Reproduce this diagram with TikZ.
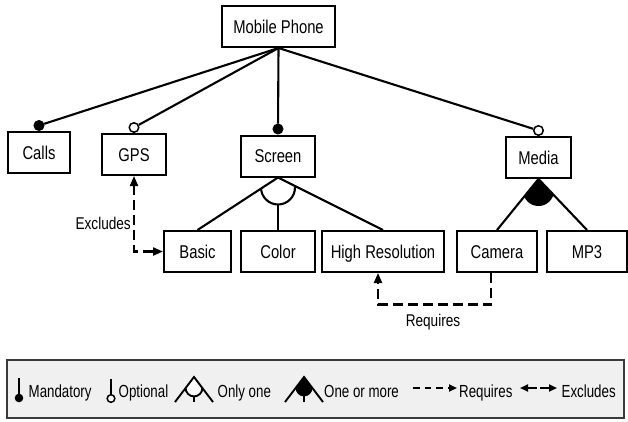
\documentclass[tikz,border=0pt]{standalone}
\usepackage{fontspec}
\setmainfont{Liberation Sans}[FakeStretch=0.8]
\newfontfamily\legfont{Liberation Sans}[FakeStretch=0.76]
\usetikzlibrary{arrows.meta,calc}
\definecolor{legendfill}{HTML}{F0F0F0}
\definecolor{legendedge}{HTML}{3A3A3A}

\begin{document}
\begin{tikzpicture}[x=1pt,y=-1pt,
  feat/.style={draw, line width=2pt, fill=white, inner sep=0pt, minimum height=41pt,
    font=\fontsize{18.5}{20}\selectfont, text height=13pt, text depth=0pt},
  edge/.style={line width=2.1pt},
  mand/.style={circle, fill=black, draw=black, line width=1pt, minimum size=10pt, inner sep=0pt, anchor=south},
  opt/.style={circle, fill=white, draw=black, line width=1.5pt, minimum size=9.5pt, inner sep=0pt, anchor=south},
  tip/.style={-{Triangle[length=10pt,width=8pt]}},
  bitip/.style={{Triangle[length=10pt,width=8pt]}-{Triangle[length=10pt,width=8pt]}},
  crosslink/.style={line width=2.1pt, dash pattern=on 10pt off 5pt},
  lbl/.style={font=\fontsize{17}{19}\selectfont, inner sep=0pt, text height=12pt, text depth=0pt},
  legtext/.style={font=\legfont\fontsize{17.5}{19}\selectfont, inner sep=0pt, anchor=base west},
  legline/.style={line width=1.9pt},
  legtip/.style={-{Triangle[length=8pt,width=7pt]}},
]
\useasboundingbox (0,0) rectangle (628,421);
\fill[white] (0,0) rectangle (628,421);

% feature boxes
\node[feat, minimum width=113pt] (mp)     at (278.5,26.5) {Mobile Phone};
\node[feat, minimum width=62pt]  (calls)  at (39,152.5)   {Calls};
\node[feat, minimum width=64pt]  (gps)    at (134,154.5)  {GPS};
\node[feat, minimum width=74pt]  (screen) at (278,156)    {Screen};
\node[feat, minimum width=65pt]  (media)  at (538.5,157.5){Media};
\node[feat, minimum width=67pt]  (basic)  at (197.5,251.5){Basic};
\node[feat, minimum width=74pt]  (color)  at (278,251.5)  {Color};
\node[feat, minimum width=122pt] (hires)  at (383,251.5)  {High Resolution};
\node[feat, minimum width=80pt]  (camera) at (497,251.5)  {Camera};
\node[feat, minimum width=80pt]  (mp3)    at (587,251.5)  {MP3};

% mandatory / optional markers
\node[mand] (callsdot)  at (calls.north)  {};
\node[opt]  (gpsdot)    at (gps.north)    {};
\node[mand] (screendot) at (screen.north) {};
\node[opt]  (mediadot)  at (media.north)  {};

\draw[edge] (mp.south) -- (callsdot);
\draw[edge] (mp.south) -- (gpsdot);
\draw[edge] (mp.south) -- (screendot);
\draw[edge] (mp.south) -- (mediadot);

% alternative group under Screen
\draw[edge] (screen.south) -- (basic.north);
\draw[edge] (screen.south) -- (hires.north);
\coordinate (xorbot) at (278,204.5);
\draw[edge] (xorbot) -- (color.north);
\begin{scope}
  \clip (screen.south) -- (basic.north) -- (hires.north) -- cycle;
  \clip (240,185) rectangle (320,215);
  \draw[edge] (278,187.5) circle (17);
\end{scope}

% or group under Media
\draw[edge] (media.south) -- (camera.north);
\draw[edge] (media.south) -- (mp3.north);
\begin{scope}
  \clip (media.south) -- (camera.north) -- (mp3.north) -- cycle;
  \fill (500,170) rectangle (580,190.5);
  \fill (538.5,190.5) circle (15.5);
\end{scope}

% cross-tree constraints
\draw[crosslink, bitip] (gps.south) |- (basic.west);
\node[lbl, anchor=east] (exlbl) at (131,223.5) {Excludes};

\coordinate (camreq) at ($(camera.south)+(-6,0)$);
\coordinate (hireq)  at ($(hires.south)+(-5,0)$);
\draw[crosslink, tip] (camreq) -- ++(0,31.5) -| (hireq);
\node[lbl] (reqlbl) at (433,320.5) {Requires};

% legend
\node[draw=legendedge, fill=legendfill, line width=2pt, minimum width=617pt,
      minimum height=58pt, inner sep=0pt] (legend) at (315.5,389) {};

% mandatory
\draw[legline] (19,378) -- (19,394);
\fill (19,398) circle (4.3);
\node[legtext] (lmand) at (28.5,397.5) {Mandatory};

% optional
\draw[legline] (111,379) -- (111,394.6);
\draw[line width=1.5pt, fill=white] (111,398.5) circle (3.8);
\node[legtext] (lopt) at (118.5,397.5) {Optional};

% only one
\begin{scope}
  \clip (194,377) -- (175,402) -- (213,402) -- cycle;
  \fill[white] (170,370) rectangle (220,388);
  \fill[white] (194,388) circle (8.4);
\end{scope}
\draw[legline] (175,402) -- (194,377) -- (213,402);
\draw[legline] (185.6,388) arc[start angle=180, end angle=0, radius=8.4];
\draw[legline] (194,396.4) -- (194,402);
\node[legtext] (lone) at (217.5,397.5) {Only one};

% one or more
\begin{scope}
  \clip (304,377) -- (285,402) -- (323,402) -- cycle;
  \fill (280,370) rectangle (330,388);
  \fill (304,388) circle (8.4);
\end{scope}
\draw[legline] (285,402) -- (304,377) -- (323,402);
\draw[legline] (304,396) -- (304,402);
\node[legtext] (lmore) at (324,397.5) {One or more};

% requires
\draw[legline, dash pattern=on 6.5pt off 5pt, legtip] (413,388) -- (457,388);
\node[legtext] (lreq) at (459,397.5) {Requires};

% excludes
\draw[legline, {Triangle[length=8pt,width=7pt]}-] (520,388) -- (537,388);
\draw[legline, legtip] (540,388) -- (557,388);
\node[legtext] (lexc) at (561.5,397.5) {Excludes};
\end{tikzpicture}
\end{document}
